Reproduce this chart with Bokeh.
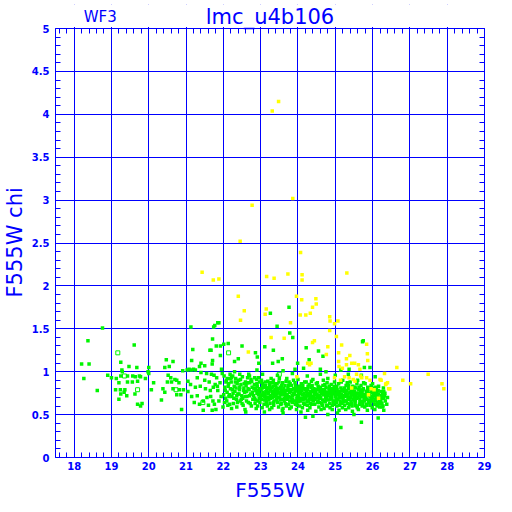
from bokeh.plotting import figure
from bokeh.models import (Range1d, LinearAxis, FixedTicker, Label, ColumnDataSource,
                          CustomJSTickFormatter, BoxAnnotation, Title)
from bokeh.embed import file_html
from bokeh.resources import INLINE

BLUE = "#0000ff"
GREEN = "#00f500"
YELLOW = "#ffff00"

title_text = "lmc_u4b106"
chip_text = "WF3"
x_label = "F555W"
y_label = "F555W chi"
x_ticks = [18, 19, 20, 21, 22, 23, 24, 25, 26, 27, 28, 29]
x_tick_labels = ["18", "19", "20", "21", "22", "23", "24", "25", "26", "27", "28", "29"]
y_ticks = [0, 0.5, 1, 1.5, 2, 2.5, 3, 3.5, 4, 4.5, 5]
y_tick_labels = ["0", "0.5", "1", "1.5", "2", "2.5", "3", "3.5", "4", "4.5", "5"]

# bright, sparse green stars (x < 21 or chi > 1)
green_sparse = [
    (18.2, 1.09), (18.37, 1.36), (18.4, 1.09), (18.26, 0.92), (18.62, 0.78), (18.76, 1.51), (18.9, 0.96),
    (19.0, 0.93), (19.13, 0.92), (19.25, 1.11), (19.28, 1.02), (19.29, 1.0), (19.61, 1.31), (19.47, 1.06),
    (19.68, 1.05), (20.0, 1.05), (19.25, 0.95), (19.43, 0.95), (19.57, 0.95), (19.64, 0.94), (19.75, 0.95),
    (19.78, 0.94), (19.91, 0.92), (20.0, 0.98), (19.98, 1.0), (20.13, 0.87), (19.2, 0.87), (19.43, 0.88),
    (19.56, 0.88), (19.7, 0.89), (19.11, 0.79), (19.24, 0.79), (19.36, 0.79), (19.25, 0.74), (19.34, 0.76),
    (19.63, 0.74), (20.07, 0.79), (19.2, 0.68), (19.41, 0.72), (19.7, 0.62), (19.82, 0.63), (19.78, 0.60),
    (20.34, 0.67), (20.43, 0.76), (20.38, 0.80), (20.5, 0.88), (20.61, 0.88), (20.59, 0.93), (20.52, 0.96),
    (20.7, 0.91), (20.75, 0.90), (20.81, 0.87), (20.65, 0.80), (20.82, 0.79), (20.93, 0.79), (20.75, 0.73),
    (20.86, 0.73), (20.88, 0.56), (20.43, 1.05), (20.55, 1.06), (20.65, 1.12), (20.47, 1.14), (20.91, 1.01),
    (21.13, 1.52), (21.74, 1.52), (21.88, 1.57), (21.71, 1.38), (21.18, 1.26), (21.67, 1.25), (22.01, 1.32),
    (21.92, 1.30), (21.77, 1.54), (21.85, 1.57), (23.76, 1.75), (23.26, 1.68), (23.44, 1.53), (25.75, 1.36),
    (23.78, 1.45), (23.86, 1.40), (22.13, 1.33), (22.5, 1.30), (23.11, 1.29), (21.81, 1.30), (21.64, 1.25),
    (23.34, 1.25), (22.86, 1.22), (21.92, 1.19), (22.91, 1.17), (23.58, 1.15), (22.3, 1.12), (21.15, 1.13),
    (21.71, 1.13), (23.47, 1.12), (21.4, 1.10), (22.95, 1.10), (22.4, 1.15), (23.32, 1.10),
    (25.73, 1.35), (24.22, 1.28), (24.55, 1.24), (24.67, 1.18), (24.30, 1.14), (23.99, 1.10), (24.6, 1.03),
    (23.92, 1.03), (25.37, 1.03), (25.78, 1.05), (25.93, 1.05), (26.07, 0.94),
]

# moderately populated part, F555W 21 - 22.8
green_mid = [
    (21.03, 1.02), (21.08, 1.03), (21.14, 1.02), (21.2, 1.03), (21.25, 1.02), (21.36, 1.06), (21.5, 1.07),
    (21.7, 1.09), (21.95, 1.03), (21.4, 0.99), (21.55, 0.98), (21.68, 0.97), (21.75, 0.96), (21.05, 0.89),
    (21.12, 0.85), (21.25, 0.82), (21.38, 0.83), (21.52, 0.80), (21.65, 0.78), (21.73, 0.82), (21.78, 0.85),
    (21.05, 0.77), (21.15, 0.71), (21.3, 0.72), (21.46, 0.66), (21.56, 0.70), (21.66, 0.71), (21.72, 0.66),
    (21.36, 0.62), (21.6, 0.61), (21.76, 0.62), (21.46, 0.55), (21.7, 0.55), (21.8, 0.56), (21.22, 0.64),
    (21.5, 0.9), (21.62, 0.88), (21.3, 0.93),
    (21.82, 0.93), (21.85, 0.78), (21.88, 0.66), (21.91, 0.87), (21.94, 0.71), (21.97, 0.98), (21.99, 0.59),
    (21.84, 0.83),
    (22.02, 0.95), (22.04, 0.82), (22.06, 0.69), (22.08, 0.90), (22.1, 0.76), (22.12, 0.61), (22.14, 0.86),
    (22.16, 0.73), (22.18, 0.97), (22.03, 0.64), (22.11, 0.92), (22.19, 0.80),
    (22.21, 0.88), (22.23, 0.71), (22.25, 0.95), (22.27, 0.63), (22.29, 0.83), (22.31, 0.77), (22.33, 0.92),
    (22.35, 0.68), (22.37, 0.86), (22.39, 0.74), (22.22, 0.57), (22.3, 1.0), (22.36, 0.59),
    (22.41, 0.90), (22.43, 0.79), (22.45, 0.66), (22.47, 0.85), (22.49, 0.72), (22.51, 0.94), (22.53, 0.61),
    (22.55, 0.81), (22.57, 0.76), (22.59, 0.88), (22.44, 0.97), (22.52, 0.69), (22.58, 0.56),
    (22.61, 0.84), (22.63, 0.71), (22.65, 0.93), (22.67, 0.64), (22.69, 0.79), (22.71, 0.87), (22.73, 0.74),
    (22.75, 0.60), (22.77, 0.82), (22.79, 0.68), (22.62, 0.77), (22.7, 0.95), (22.76, 0.89),
    (22.05, 0.78), (22.09, 0.66), (22.13, 0.83), (22.17, 0.62), (22.07, 0.88), (22.15, 0.71), (22.01, 0.73), (22.19, 0.92),
    (22.24, 0.79), (22.28, 0.69), (22.32, 0.88), (22.38, 0.64), (22.26, 0.75), (22.34, 0.81), (22.22, 0.93), (22.36, 0.72),
    (22.42, 0.74), (22.46, 0.91), (22.5, 0.63), (22.54, 0.78), (22.48, 0.68), (22.56, 0.86), (22.44, 0.82), (22.58, 0.71),
    (22.62, 0.66), (22.66, 0.80), (22.7, 0.72), (22.74, 0.91), (22.64, 0.87), (22.72, 0.63), (22.78, 0.76), (22.68, 0.97),
]

# dense core of the distribution, F555W 22.8 - 26.4
green_core = [
    (22.81, 0.72), (22.83, 0.85), (22.85, 0.63), (22.87, 0.78), (22.89, 0.91), (22.84, 0.69), (22.86, 0.81), (22.88, 0.57), (22.9, 0.75),
    (22.91, 0.83), (22.93, 0.66), (22.95, 0.77), (22.97, 0.88), (22.99, 0.71), (22.92, 0.60), (22.96, 0.80), (22.98, 0.74), (22.94, 0.93),
    (23.01, 0.79), (23.03, 0.68), (23.05, 0.86), (23.07, 0.73), (23.09, 0.62), (23.02, 0.90), (23.06, 0.76), (23.08, 0.82), (23.04, 0.58),
    (23.11, 0.71), (23.13, 0.84), (23.15, 0.65), (23.17, 0.78), (23.19, 0.89), (23.12, 0.74), (23.16, 0.81), (23.18, 0.60), (23.14, 0.69),
    (23.21, 0.76), (23.23, 0.87), (23.25, 0.63), (23.27, 0.72), (23.29, 0.81), (23.22, 0.67), (23.26, 0.79), (23.28, 0.92), (23.24, 0.56), (23.2, 0.74),
    (23.31, 0.70), (23.33, 0.83), (23.35, 0.61), (23.37, 0.77), (23.39, 0.86), (23.32, 0.74), (23.36, 0.66), (23.38, 0.79), (23.34, 0.90), (23.3, 0.58),
    (23.41, 0.72), (23.43, 0.81), (23.45, 0.64), (23.47, 0.76), (23.49, 0.88), (23.42, 0.68), (23.46, 0.79), (23.48, 0.59), (23.44, 0.74), (23.4, 0.84),
    (23.51, 0.70), (23.53, 0.82), (23.55, 0.63), (23.57, 0.75), (23.59, 0.87), (23.52, 0.67), (23.56, 0.78), (23.58, 0.55), (23.54, 0.73), (23.5, 0.92),
    (23.61, 0.77), (23.63, 0.66), (23.65, 0.84), (23.67, 0.71), (23.69, 0.60), (23.62, 0.80), (23.66, 0.74), (23.68, 0.89), (23.64, 0.69), (23.6, 0.57),
    (23.71, 0.73), (23.73, 0.81), (23.75, 0.62), (23.77, 0.76), (23.79, 0.86), (23.72, 0.68), (23.76, 0.79), (23.78, 0.57), (23.74, 0.71), (23.7, 0.92),
    (23.81, 0.70), (23.83, 0.84), (23.85, 0.64), (23.87, 0.75), (23.89, 0.80), (23.82, 0.59), (23.86, 0.72), (23.88, 0.90), (23.84, 0.67), (23.8, 0.77),
    (23.91, 0.74), (23.93, 0.62), (23.95, 0.82), (23.97, 0.69), (23.99, 0.78), (23.92, 0.87), (23.96, 0.56), (23.98, 0.72), (23.94, 0.66), (23.9, 0.80),
    (24.01, 0.71), (24.03, 0.80), (24.05, 0.60), (24.07, 0.75), (24.09, 0.86), (24.02, 0.65), (24.06, 0.77), (24.08, 0.53), (24.04, 0.69), (24.0, 0.91),
    (24.11, 0.73), (24.13, 0.84), (24.15, 0.63), (24.17, 0.70), (24.19, 0.79), (24.12, 0.58), (24.16, 0.75), (24.18, 0.88), (24.14, 0.67), (24.1, 0.81),
    (24.21, 0.69), (24.23, 0.77), (24.25, 0.61), (24.27, 0.83), (24.29, 0.72), (24.22, 0.88), (24.26, 0.55), (24.28, 0.66), (24.24, 0.74), (24.2, 0.80),
    (24.31, 0.75), (24.33, 0.63), (24.35, 0.82), (24.37, 0.70), (24.39, 0.78), (24.32, 0.58), (24.36, 0.89), (24.38, 0.67), (24.34, 0.73), (24.3, 0.85),
    (24.41, 0.71), (24.43, 0.80), (24.45, 0.62), (24.47, 0.76), (24.49, 0.86), (24.42, 0.66), (24.46, 0.73), (24.48, 0.54), (24.44, 0.69), (24.4, 0.91),
    (24.51, 0.74), (24.53, 0.64), (24.55, 0.81), (24.57, 0.69), (24.59, 0.77), (24.52, 0.87), (24.56, 0.59), (24.58, 0.72), (24.54, 0.66), (24.5, 0.79),
    (24.61, 0.70), (24.63, 0.78), (24.65, 0.61), (24.67, 0.84), (24.69, 0.73), (24.62, 0.56), (24.66, 0.67), (24.68, 0.90), (24.64, 0.75), (24.6, 0.82),
    (24.71, 0.76), (24.73, 0.65), (24.75, 0.82), (24.77, 0.71), (24.79, 0.60), (24.72, 0.79), (24.76, 0.68), (24.78, 0.87), (24.74, 0.73), (24.7, 0.57),
    (24.81, 0.72), (24.83, 0.80), (24.85, 0.63), (24.87, 0.75), (24.89, 0.85), (24.82, 0.67), (24.86, 0.58), (24.88, 0.70), (24.84, 0.77), (24.8, 0.92),
    (24.91, 0.69), (24.93, 0.78), (24.95, 0.62), (24.97, 0.83), (24.99, 0.73), (24.92, 0.56), (24.96, 0.66), (24.98, 0.88), (24.94, 0.75), (24.9, 0.80),
    (25.01, 0.71), (25.03, 0.64), (25.05, 0.79), (25.07, 0.68), (25.09, 0.86), (25.02, 0.75), (25.06, 0.52), (25.08, 0.73), (25.04, 0.60), (25.0, 0.82),
    (25.11, 0.74), (25.13, 0.66), (25.15, 0.81), (25.17, 0.70), (25.19, 0.58), (25.12, 0.77), (25.16, 0.88), (25.18, 0.63), (25.14, 0.72), (25.1, 0.55),
    (25.21, 0.69), (25.23, 0.79), (25.25, 0.61), (25.27, 0.74), (25.29, 0.84), (25.22, 0.65), (25.26, 0.71), (25.28, 0.56), (25.24, 0.77), (25.2, 0.90),
    (25.31, 0.72), (25.33, 0.63), (25.35, 0.80), (25.37, 0.68), (25.39, 0.76), (25.32, 0.87), (25.36, 0.58), (25.38, 0.70), (25.34, 0.74), (25.3, 0.66),
    (25.41, 0.70), (25.43, 0.78), (25.45, 0.60), (25.47, 0.83), (25.49, 0.73), (25.42, 0.66), (25.46, 0.54), (25.48, 0.68), (25.44, 0.75), (25.4, 0.88),
    (25.51, 0.74), (25.53, 0.64), (25.55, 0.81), (25.57, 0.69), (25.59, 0.58), (25.52, 0.77), (25.56, 0.71), (25.58, 0.86), (25.54, 0.61), (25.5, 0.67),
    (25.61, 0.70), (25.63, 0.79), (25.65, 0.62), (25.67, 0.74), (25.69, 0.84), (25.62, 0.56), (25.66, 0.68), (25.68, 0.77), (25.64, 0.72), (25.6, 0.90),
    (25.71, 0.73), (25.73, 0.65), (25.75, 0.80), (25.77, 0.69), (25.79, 0.59), (25.72, 0.76), (25.76, 0.87), (25.78, 0.71), (25.74, 0.62), (25.7, 0.78),
    (25.81, 0.70), (25.83, 0.77), (25.85, 0.61), (25.87, 0.82), (25.89, 0.66), (25.82, 0.73), (25.86, 0.55), (25.88, 0.74), (25.84, 0.68), (25.8, 0.86),
    (25.91, 0.72), (25.93, 0.64), (25.95, 0.79), (25.97, 0.69), (25.99, 0.58), (25.92, 0.75), (25.96, 0.84), (25.98, 0.71), (25.94, 0.61), (25.9, 0.67),
    (26.01, 0.70), (26.03, 0.77), (26.05, 0.62), (26.07, 0.73), (26.09, 0.82), (26.02, 0.66), (26.06, 0.56), (26.08, 0.68), (26.04, 0.75), (26.0, 0.86),
    (26.11, 0.71), (26.13, 0.64), (26.15, 0.78), (26.17, 0.69), (26.19, 0.59), (26.12, 0.74), (26.16, 0.83), (26.18, 0.66), (26.14, 0.61), (26.1, 0.76),
    (26.21, 0.70), (26.23, 0.77), (26.25, 0.63), (26.27, 0.73), (26.29, 0.81), (26.22, 0.67), (26.26, 0.59), (26.24, 0.72), (26.3, 0.69), (26.33, 0.75),
    (23.05, 0.97), (23.45, 0.96), (23.85, 0.98), (24.25, 0.95), (24.6, 0.97), (25.0, 0.96), (25.35, 0.97), (22.9, 1.02),
    (23.6, 1.01), (24.15, 1.04), (24.75, 1.0), (25.15, 1.02), (25.7, 0.96), (24.4, 0.48), (24.2, 0.47), (25.0, 0.44),
    (25.15, 0.35), (25.7, 0.41), (26.15, 0.46), (23.6, 0.52), (23.1, 0.53), (22.6, 0.53), (24.8, 0.5), (25.5, 0.5),
    (26.3, 0.55), (26.4, 0.7), (26.38, 0.62),
    (22.82, 0.80), (22.86, 0.67), (22.9, 0.86), (22.94, 0.73), (22.98, 0.64), (22.84, 0.93), (22.92, 0.78), (22.96, 0.69),
    (23.02, 0.72), (23.06, 0.83), (23.1, 0.67), (23.14, 0.77), (23.18, 0.70), (23.04, 0.81), (23.12, 0.88), (23.16, 0.62),
    (23.22, 0.81), (23.26, 0.69), (23.3, 0.77), (23.34, 0.64), (23.38, 0.73), (23.24, 0.84), (23.32, 0.87), (23.36, 0.71),
    (23.42, 0.77), (23.46, 0.70), (23.5, 0.80), (23.54, 0.62), (23.58, 0.68), (23.44, 0.86), (23.52, 0.75), (23.56, 0.84),
    (23.62, 0.73), (23.66, 0.63), (23.7, 0.78), (23.74, 0.84), (23.78, 0.66), (23.64, 0.76), (23.72, 0.70), (23.76, 0.88),
    (23.82, 0.79), (23.86, 0.68), (23.9, 0.74), (23.94, 0.84), (23.98, 0.61), (23.84, 0.72), (23.92, 0.77), (23.96, 0.65),
    (24.02, 0.76), (24.06, 0.66), (24.1, 0.78), (24.14, 0.73), (24.18, 0.62), (24.04, 0.83), (24.12, 0.69), (24.16, 0.80),
    (24.22, 0.72), (24.26, 0.79), (24.3, 0.68), (24.34, 0.77), (24.38, 0.84), (24.24, 0.65), (24.32, 0.71), (24.36, 0.62),
    (24.42, 0.77), (24.46, 0.68), (24.5, 0.73), (24.54, 0.83), (24.58, 0.64), (24.44, 0.75), (24.52, 0.70), (24.56, 0.79),
    (24.62, 0.74), (24.66, 0.79), (24.7, 0.66), (24.74, 0.70), (24.78, 0.76), (24.64, 0.63), (24.72, 0.85), (24.76, 0.61),
    (24.82, 0.75), (24.86, 0.68), (24.9, 0.72), (24.94, 0.65), (24.98, 0.79), (24.84, 0.83), (24.92, 0.61), (24.96, 0.76),
    (25.02, 0.68), (25.06, 0.76), (25.1, 0.70), (25.14, 0.64), (25.18, 0.78), (25.04, 0.83), (25.12, 0.61), (25.16, 0.74),
    (25.22, 0.72), (25.26, 0.66), (25.3, 0.78), (25.34, 0.69), (25.38, 0.62), (25.24, 0.81), (25.32, 0.74), (25.36, 0.84),
    (25.42, 0.73), (25.46, 0.79), (25.5, 0.70), (25.54, 0.66), (25.58, 0.75), (25.44, 0.63), (25.52, 0.82), (25.56, 0.60),
    (25.62, 0.75), (25.66, 0.64), (25.7, 0.71), (25.74, 0.79), (25.78, 0.66), (25.64, 0.82), (25.72, 0.60), (25.76, 0.73),
    (25.82, 0.68), (25.86, 0.78), (25.9, 0.64), (25.94, 0.71), (25.98, 0.76), (25.84, 0.62), (25.92, 0.81), (25.96, 0.66),
    (26.02, 0.72), (26.06, 0.66), (26.1, 0.79), (26.14, 0.70), (26.18, 0.63), (26.04, 0.81), (26.12, 0.60), (26.16, 0.74),
    (26.22, 0.64), (26.26, 0.70), (26.3, 0.77), (26.34, 0.66), (26.28, 0.60), (26.32, 0.72),
]

# stars drawn as open squares
green_open = [(22.14, 1.22), (19.17, 1.22), (19.35, 0.95), (19.7, 0.79), (20.73, 0.79), (21.45, 0.64), (23.5, 0.97)]

# yellow (flagged) stars
yellow_pts = [
    (23.48, 4.15), (23.31, 4.04), (23.86, 3.02), (22.77, 2.94), (22.45, 2.52), (24.07, 2.39), (21.43, 2.16),
    (21.73, 2.07), (21.88, 2.08), (23.16, 2.11), (23.36, 2.09), (23.73, 2.14), (24.11, 2.13), (24.11, 2.07),
    (25.31, 2.15), (22.4, 1.88), (22.56, 1.71), (22.46, 1.60), (23.15, 1.73), (23.12, 1.67), (23.80, 1.57),
    (23.96, 1.88), (23.28, 1.40), (23.63, 1.39), (22.67, 1.23),
    (24.10, 1.84), (24.48, 1.85), (24.49, 1.79), (24.39, 1.75), (24.06, 1.66), (24.21, 1.66), (24.33, 1.68),
    (24.85, 1.64), (24.86, 1.59), (24.98, 1.56), (25.07, 1.59), (24.85, 1.48), (25.03, 1.41), (24.44, 1.36),
    (24.39, 1.34), (25.17, 1.31), (24.80, 1.29), (25.84, 1.32), (25.86, 1.21), (25.09, 1.22), (24.76, 1.20),
    (25.39, 1.19), (25.30, 1.15), (25.87, 1.13), (25.09, 1.12), (25.44, 1.10), (25.52, 1.10), (25.62, 1.08),
    (25.10, 1.06), (25.19, 1.04), (25.30, 1.08), (24.26, 1.10), (24.31, 1.08), (24.35, 1.10), (26.65, 1.05),
    (25.66, 1.03), (26.32, 0.98), (26.81, 0.90), (26.36, 0.86), (26.43, 0.80), (26.2, 0.91), (25.57, 0.97),
    (25.68, 0.95), (25.71, 0.93), (25.48, 0.91), (25.37, 0.93), (25.53, 0.89), (25.84, 0.93), (25.93, 0.90),
    (25.96, 0.80), (26.04, 0.79), (25.89, 0.73), (26.16, 0.69), (25.25, 0.94), (25.14, 0.90), (24.98, 0.93),
    (25.44, 0.81), (23.97, 0.94), (27.02, 0.86), (27.49, 0.97), (27.86, 0.86), (27.91, 0.80), (26.40, 0.87),
    (26.35, 0.85), (26.46, 0.80), (26.23, 0.90),
]


def src(pts):
    return ColumnDataSource(data=dict(x=[p[0] for p in pts], y=[p[1] for p in pts]))


# the frame reaches above chi = 5 so that the header texts sit inside it
Y_TOP = 5.28
p = figure(width=496, height=505, output_backend="svg", toolbar_location=None,
           x_range=Range1d(17.5, 29), y_range=Range1d(0, Y_TOP),
           x_axis_location=None, y_axis_location=None,
           min_border_left=55, min_border_right=12, min_border_top=4, min_border_bottom=48)
p.outline_line_color = None

xt = FixedTicker(ticks=x_ticks, minor_ticks=[round(17.6 + 0.2 * i, 1) for i in range(57)])
yt = FixedTicker(ticks=y_ticks, minor_ticks=[round(0.1 * i, 1) for i in range(51)])


def style_axis(ax, show_labels):
    ax.axis_line_color = BLUE
    ax.major_tick_line_color = BLUE
    ax.minor_tick_line_color = BLUE
    ax.major_tick_in = 8
    ax.major_tick_out = 0
    ax.minor_tick_in = 5
    ax.minor_tick_out = 0
    ax.major_label_text_color = BLUE
    ax.major_label_text_font = "DejaVu Sans"
    ax.major_label_text_font_style = "bold"
    ax.axis_label_text_color = BLUE
    ax.axis_label_text_font = "DejaVu Sans"
    ax.axis_label_text_font_style = "normal"
    ax.axis_label_text_font_size = "20px"
    if show_labels:
        ax.major_label_text_font_size = "10px"
    else:
        ax.major_label_text_font_size = "1px"
        ax.major_label_standoff = 0
        ax.formatter = CustomJSTickFormatter(code="return '';")


xb = LinearAxis(ticker=xt, axis_label=x_label,
                major_label_overrides={t: s for t, s in zip(x_ticks, x_tick_labels)})
style_axis(xb, True)
xb.major_label_standoff = 4
xb.axis_label_standoff = 5
p.add_layout(xb, "below")

yl = LinearAxis(ticker=yt, bounds=(0, 5),
                major_label_overrides={t: s for t, s in zip(y_ticks, y_tick_labels)})
style_axis(yl, True)
yl.major_label_standoff = 6
p.add_layout(yl, "left")

# y-axis title, measured from the bottom of the plot box
p.add_layout(Title(text=y_label, align="left", vertical_align="top", offset=160, standoff=0,
                   text_color=BLUE, text_font="DejaVu Sans", text_font_style="normal",
                   text_font_size="21px"), "left")

xa = LinearAxis(ticker=xt, fixed_location=5)
style_axis(xa, False)
p.add_layout(xa, "above")
yr = LinearAxis(ticker=yt, bounds=(0, 5))
style_axis(yr, False)
p.add_layout(yr, "right")

p.xgrid.ticker = FixedTicker(ticks=x_ticks)
p.ygrid.ticker = FixedTicker(ticks=y_ticks)
for g in (p.xgrid, p.ygrid):
    g.grid_line_color = BLUE
    g.grid_line_width = 1
    g.grid_line_alpha = 1.0
    g.level = "underlay"

msize = 3.5
for pts in (green_sparse, green_mid, green_core):
    p.scatter("x", "y", source=src(pts), marker="square", size=msize,
              fill_color=GREEN, line_color=None)
p.scatter("x", "y", source=src(green_open), marker="square", size=4,
          fill_color=None, line_color=GREEN, line_width=1)
p.scatter("x", "y", source=src(yellow_pts), marker="square", size=msize,
          fill_color=YELLOW, line_color=None)

# blank header band above the plot box (hides the grid there)
p.add_layout(BoxAnnotation(bottom=5.018, fill_color="white", fill_alpha=1.0, line_color=None))

common = dict(text_color=BLUE, text_font="DejaVu Sans", text_baseline="alphabetic", text_align="center")
p.add_layout(Label(x=23.25, y=5.134, text=title_text, text_font_size="21px", **common))
p.add_layout(Label(x=18.7, y=5.134, text=chip_text, text_font_size="15px", **common))

open("out.html", "w").write(file_html(p, INLINE))
